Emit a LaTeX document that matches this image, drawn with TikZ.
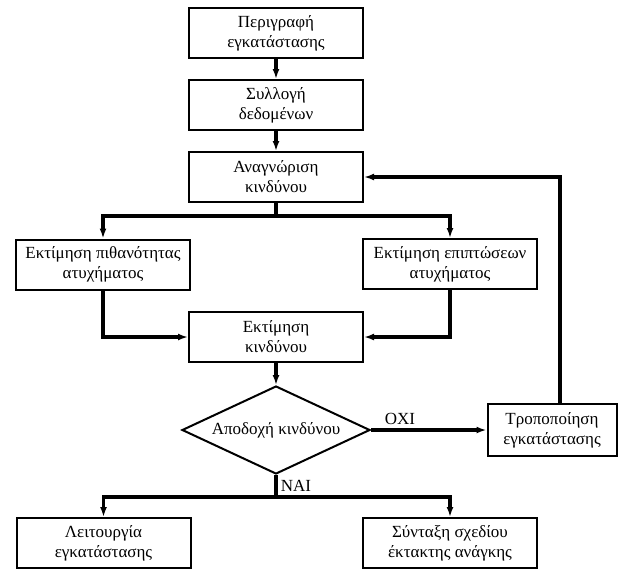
\documentclass[tikz,border=0pt]{standalone}
\usepackage{fontspec}
\setmainfont{Liberation Serif}
\usetikzlibrary{arrows.meta, shapes.geometric, calc}
\newcommand{\flowArrow}{{Latex[length=10pt,width=7pt]}}

\begin{document}
\begin{tikzpicture}[x=1pt, y=-1pt, font=\fontsize{17}{20}\selectfont,
	block/.style={draw, line width=2pt, minimum width=174pt, minimum height=50pt, align=center, inner sep=1pt},
	flow/.style={line width=3.2pt}]
	\useasboundingbox (0,0) rectangle (620,568);

	\node[block] (descr) at (276,33) {Περιγραφή\\εγκατάστασης};
	\node[block] (data) at (276,105) {Συλλογή\\δεδομένων};
	\node[block] (ident) at (276,177) {Αναγνώριση\\κινδύνου};
	\node[block] (prob) at (103,264.5) {Εκτίμηση πιθανότητας\\ατυχήματος};
	\node[block] (cons) at (450,264) {Εκτίμηση επιπτώσεων\\ατυχήματος};
	\node[block] (risk) at (276,337) {Εκτίμηση\\κινδύνου};
	\node[draw, diamond, line width=2pt, inner sep=0pt, aspect=2.1, minimum width=188pt, minimum height=88pt] (accept) at (276,430) {Αποδοχή κινδύνου};
	\node[block, minimum width=129pt, minimum height=52pt] (modify) at (552,430) {Τροποποίηση\\εγκατάστασης};
	\node[block] (oper) at (103.5,543) {Λειτουργία\\εγκατάστασης};
	\node[block] (plan) at (450,543) {Σύνταξη σχεδίου\\έκτακτης ανάγκης};

	\coordinate (split) at (276,216);
	\coordinate (back) at (560,177);
	\coordinate (join) at (276,497);

	\draw[flow, -\flowArrow]	(descr) -- (data);
	\draw[flow, -\flowArrow]	(data) -- (ident);
	\draw[flow]	(ident) -- (split);
	\draw[flow, -\flowArrow]	(split) -| (prob);
	\draw[flow, -\flowArrow]	(split) -| (cons);
	\draw[flow, -\flowArrow]	(prob) |- (risk);
	\draw[flow, -\flowArrow]	(cons) |- (risk);
	\draw[flow, -\flowArrow]	(risk) -- (accept);
	\draw[flow, -\flowArrow]	(accept) -- node[above, pos=0.25] {ΟΧΙ} (modify);
	\draw[flow, -\flowArrow]	(modify.north -| back) -- (back) -- (ident.east);
	\draw[flow]	(accept) -- node[right] {ΝΑΙ} (join);
	\draw[flow, -\flowArrow]	(join) -| (oper);
	\draw[flow, -\flowArrow]	(join) -| (plan);
\end{tikzpicture}
\end{document}
